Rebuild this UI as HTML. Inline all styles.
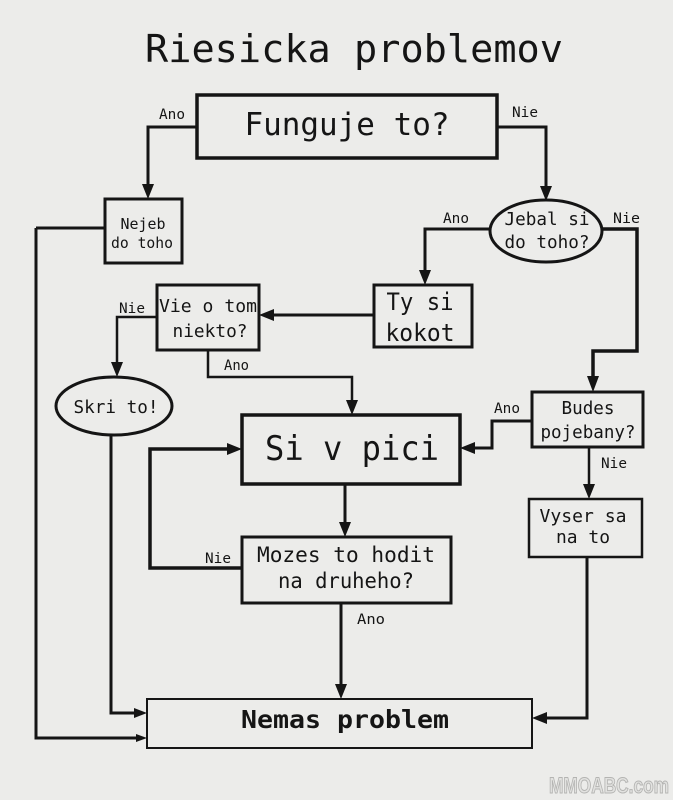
<!DOCTYPE html>
<html><head><meta charset="utf-8">
<style>
html,body{margin:0;padding:0;background:#ececea;}
svg{display:block;}
text{font-family:"DejaVu Sans Mono","Liberation Mono",monospace;fill:#151515;}
</style></head>
<body>
<svg width="673" height="800" viewBox="0 0 673 800" xmlns="http://www.w3.org/2000/svg">
<rect x="0" y="0" width="673" height="800" fill="#ececea"/>

<!-- Title -->
<text x="145" y="62" font-size="38" textLength="418" lengthAdjust="spacingAndGlyphs">Riesicka problemov</text>

<g fill="none" stroke="#151515" stroke-linejoin="miter">
<!-- boxes -->
<rect x="197" y="95" width="300" height="63" stroke-width="3.5"/>
<rect x="105" y="199" width="77" height="64" stroke-width="3"/>
<ellipse cx="546" cy="231" rx="56" ry="31" stroke-width="3"/>
<rect x="374" y="285" width="98" height="62" stroke-width="3"/>
<rect x="157" y="285" width="102" height="65" stroke-width="3"/>
<ellipse cx="114" cy="406" rx="58" ry="29" stroke-width="3"/>
<rect x="242" y="415" width="218" height="69" stroke-width="3.5"/>
<rect x="532" y="392" width="111" height="55" stroke-width="3"/>
<rect x="529" y="499" width="113" height="58" stroke-width="2.5"/>
<rect x="242" y="537" width="209" height="66" stroke-width="3"/>
<rect x="147" y="699" width="385" height="49" stroke-width="2"/>

<!-- connectors -->
<path d="M197,127 H148 V186" stroke-width="3"/>
<path d="M497,127 H546 V188" stroke-width="3"/>
<path d="M490,229 H425 V272" stroke-width="3"/>
<path d="M602,229 H637 V351 H593 V378" stroke-width="3.5"/>
<path d="M374,315 H272" stroke-width="3"/>
<path d="M157,317 H117 V364" stroke-width="2.5"/>
<path d="M208,350 V377 H352 V402" stroke-width="2.5"/>
<path d="M532,421 H492 V448 H473" stroke-width="3"/>
<path d="M589,447 V486" stroke-width="2.5"/>
<path d="M345,484 V524" stroke-width="3"/>
<path d="M242,568 H150 V449 H229" stroke-width="3.5"/>
<path d="M341,603 V686" stroke-width="3"/>
<path d="M587,557 V718 H545" stroke-width="3"/>
<path d="M111,435 V713 H136" stroke-width="3"/>
<path d="M36,228 H105 M36,228 V738 H138" stroke-width="3"/>
</g>

<!-- arrowheads -->
<g fill="#151515">
<polygon points="142,184 154,184 148,199"/>
<polygon points="540,186 552,186 546,201"/>
<polygon points="419,270 431,270 425,285"/>
<polygon points="587,376 599,376 593,392"/>
<polygon points="274,309 274,321 259,315"/>
<polygon points="111,362 123,362 117,377"/>
<polygon points="346,400 358,400 352,415"/>
<polygon points="475,442 475,454 460,448"/>
<polygon points="583,484 595,484 589,499"/>
<polygon points="339,522 351,522 345,537"/>
<polygon points="227,443 227,455 242,449"/>
<polygon points="335,684 347,684 341,699"/>
<polygon points="547,712 547,724 532,718"/>
<polygon points="134,708 134,718 147,713"/>
<polygon points="136,734 136,742 147,738"/>
</g>

<!-- node text -->
<text x="347" y="135" font-size="31" text-anchor="middle" textLength="205" lengthAdjust="spacingAndGlyphs">Funguje to?</text>
<text x="143" y="229" font-size="15" text-anchor="middle" textLength="45" lengthAdjust="spacingAndGlyphs">Nejeb</text>
<text x="142" y="248" font-size="15" text-anchor="middle" textLength="62" lengthAdjust="spacingAndGlyphs">do toho</text>
<text x="547" y="225" font-size="18" text-anchor="middle" textLength="85" lengthAdjust="spacingAndGlyphs">Jebal si</text>
<text x="547" y="248" font-size="18" text-anchor="middle" textLength="85" lengthAdjust="spacingAndGlyphs">do toho?</text>
<text x="420" y="310" font-size="24" text-anchor="middle" textLength="67" lengthAdjust="spacingAndGlyphs">Ty si</text>
<text x="420" y="341" font-size="24" text-anchor="middle" textLength="69" lengthAdjust="spacingAndGlyphs">kokot</text>
<text x="208" y="312" font-size="18" text-anchor="middle" textLength="98" lengthAdjust="spacingAndGlyphs">Vie o tom</text>
<text x="210" y="337" font-size="18" text-anchor="middle" textLength="75" lengthAdjust="spacingAndGlyphs">niekto?</text>
<text x="116" y="413" font-size="18" text-anchor="middle" textLength="85" lengthAdjust="spacingAndGlyphs">Skri to!</text>
<text x="352" y="460" font-size="34" text-anchor="middle" textLength="174" lengthAdjust="spacingAndGlyphs">Si v pici</text>
<text x="588" y="414" font-size="18" text-anchor="middle" textLength="53" lengthAdjust="spacingAndGlyphs">Budes</text>
<text x="588" y="438" font-size="18" text-anchor="middle" textLength="95" lengthAdjust="spacingAndGlyphs">pojebany?</text>
<text x="583" y="522" font-size="18" text-anchor="middle" textLength="87" lengthAdjust="spacingAndGlyphs">Vyser sa</text>
<text x="583" y="543" font-size="18" text-anchor="middle" textLength="54" lengthAdjust="spacingAndGlyphs">na to</text>
<text x="346" y="562" font-size="21" text-anchor="middle" textLength="178" lengthAdjust="spacingAndGlyphs">Mozes to hodit</text>
<text x="346" y="588" font-size="21" text-anchor="middle" textLength="136" lengthAdjust="spacingAndGlyphs">na druheho?</text>
<text x="345" y="728" font-size="25" font-weight="bold" text-anchor="middle" textLength="208" lengthAdjust="spacingAndGlyphs">Nemas problem</text>

<!-- edge labels -->
<g font-size="14">
<text x="159" y="119" textLength="26" lengthAdjust="spacingAndGlyphs">Ano</text>
<text x="512" y="117" textLength="26" lengthAdjust="spacingAndGlyphs">Nie</text>
<text x="443" y="223" textLength="26" lengthAdjust="spacingAndGlyphs">Ano</text>
<text x="613" y="223" textLength="27" lengthAdjust="spacingAndGlyphs">Nie</text>
<text x="119" y="313" textLength="26" lengthAdjust="spacingAndGlyphs">Nie</text>
<text x="224" y="370" textLength="25" lengthAdjust="spacingAndGlyphs">Ano</text>
<text x="494" y="413" textLength="26" lengthAdjust="spacingAndGlyphs">Ano</text>
<text x="601" y="468" textLength="26" lengthAdjust="spacingAndGlyphs">Nie</text>
<text x="205" y="563" textLength="26" lengthAdjust="spacingAndGlyphs">Nie</text>
<text x="357" y="624" textLength="28" lengthAdjust="spacingAndGlyphs">Ano</text>
</g>

<!-- watermark -->
<text x="549" y="793" font-size="22" font-weight="bold" style="font-family:'Liberation Sans',sans-serif;fill:#e2e2e0;stroke:#b4b4b2;stroke-width:1" textLength="120" lengthAdjust="spacingAndGlyphs">MMOABC.com</text>
</svg>
</body></html>
